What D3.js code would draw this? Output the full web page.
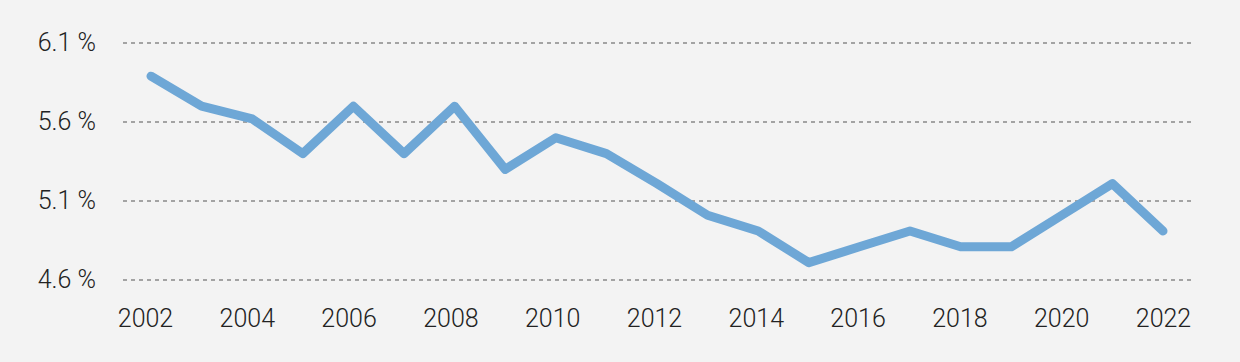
<!DOCTYPE html>
<html><head><meta charset="utf-8">
<script src="https://cdn.jsdelivr.net/npm/d3@7"></script>
<style>html,body{margin:0;padding:0;background:#f3f3f3;}svg{display:block;}</style>
</head><body><svg id="c" width="1240" height="362"></svg>
<script>
const years = [2002,2003,2004,2005,2006,2007,2008,2009,2010,2011,2012,2013,2014,2015,2016,2017,2018,2019,2020,2021,2022];
const values = [5.89,5.70,5.62,5.40,5.70,5.40,5.70,5.30,5.50,5.40,5.21,5.01,4.91,4.71,4.81,4.91,4.81,4.81,5.01,5.21,4.91];
const yTicks = [4.6,5.1,5.6,6.1];
const xTicks = [2002,2004,2006,2008,2010,2012,2014,2016,2018,2020,2022];

const svg = d3.select("#c");
svg.append("rect").attr("width",1240).attr("height",362).attr("fill","#f3f3f3");
const x = d3.scaleLinear().domain([2002,2022]).range([151,1163]);
const xLab = d3.scaleLinear().domain([2002,2022]).range([145,1163]);
const y = d3.scaleLinear().domain([4.6,6.1]).range([280,43]);
const font = "Roboto, 'Noto Sans', sans-serif";

const grid = svg.append("g");
grid.selectAll("line").data(yTicks).join("line")
  .attr("x1",123).attr("x2",1192)
  .attr("y1",d=>y(d)).attr("y2",d=>y(d))
  .attr("stroke","#555").attr("stroke-width",1.2).attr("stroke-dasharray","4,4");

const yAxis = d3.axisLeft(y).tickValues(yTicks).tickSize(0).tickPadding(0)
  .tickFormat(d=>d3.format(".1f")(d)+"\u00a0%");
svg.append("g").attr("transform","translate(96,0)").call(yAxis)
  .call(g=>g.select(".domain").remove())
  .call(g=>g.selectAll("text").attr("font-family",font).attr("font-weight",300)
    .attr("font-size",25).attr("fill","#222").attr("dy","0.3em"));

const xAxis = d3.axisBottom(xLab).tickValues(xTicks).tickSize(0).tickPadding(0).tickFormat(d3.format("d"));
svg.append("g").attr("transform","translate(0,309)").call(xAxis)
  .call(g=>g.select(".domain").remove())
  .call(g=>g.selectAll("text").attr("font-family",font).attr("font-weight",300)
    .attr("font-size",25).attr("fill","#222").attr("dy","0.71em"));

const line = d3.line().x((d,i)=>x(years[i])).y(d=>y(d));
svg.append("path").datum(values).attr("d",line)
  .attr("fill","none").attr("stroke","#6ea7d6").attr("stroke-width",9)
  .attr("stroke-linecap","round").attr("stroke-linejoin","round");
</script></body></html>
